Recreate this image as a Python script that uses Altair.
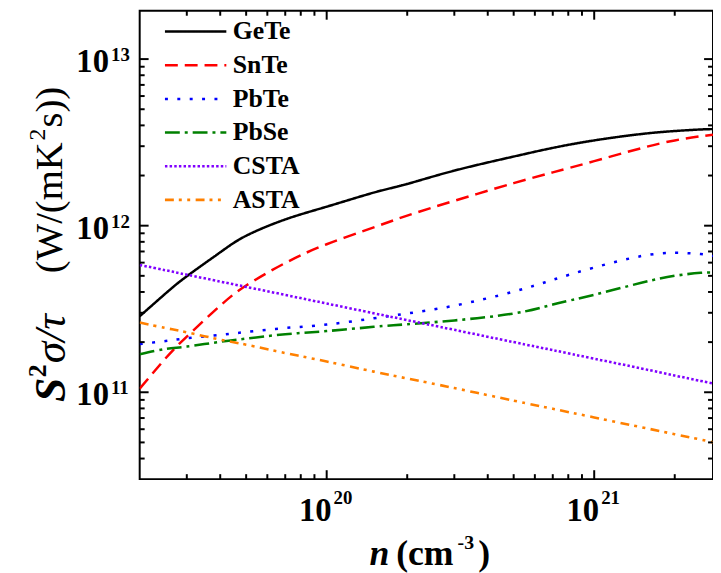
import altair as alt
import pandas as pd

# ---------------- data ----------------
n = [2.0e19, 2.5e19, 3e19, 4e19, 5e19, 7e19, 1e20, 1.5e20, 2e20, 3e20,
     5e20, 7e20, 1e21, 1.5e21, 2e21, 2.5e21, 2.78e21]
gete = [2.86e11, 3.92e11, 4.97e11, 6.92e11, 8.70e11, 1.09e12, 1.30e12, 1.58e12, 1.78e12,
        2.14e12, 2.60e12, 2.93e12, 3.25e12, 3.55e12, 3.70e12, 3.78e12, 3.80e12]
snte = [1.05e11, 1.60e11, 2.16e11, 3.31e11, 4.37e11, 5.97e11, 7.74e11, 9.77e11, 1.15e12,
        1.41e12, 1.80e12, 2.09e12, 2.44e12, 2.92e12, 3.25e12, 3.44e12, 3.52e12]
pbte = [1.95e11, 2.03e11, 2.11e11, 2.21e11, 2.30e11, 2.43e11, 2.55e11, 2.78e11, 2.97e11,
        3.31e11, 4.02e11, 4.73e11, 5.61e11, 6.57e11, 6.87e11, 6.75e11, 6.57e11]
pbse = [1.69e11, 1.82e11, 1.88e11, 2.01e11, 2.10e11, 2.23e11, 2.33e11, 2.47e11, 2.56e11,
        2.70e11, 2.97e11, 3.36e11, 3.85e11, 4.54e11, 5.00e11, 5.21e11, 5.23e11]
csta = [5.81e11, 5.40e11, 5.08e11, 4.62e11, 4.29e11, 3.84e11, 3.41e11, 2.98e11, 2.71e11,
        2.37e11, 2.00e11, 1.79e11, 1.59e11, 1.39e11, 1.26e11, 1.17e11, 1.13e11]
asta = [2.62e11, 2.43e11, 2.29e11, 2.07e11, 1.93e11, 1.72e11, 1.53e11, 1.33e11, 1.21e11,
        1.06e11, 8.91e10, 7.96e10, 7.06e10, 6.17e10, 5.60e10, 5.20e10, 5.00e10]

series = ["GeTe", "SnTe", "PbTe", "PbSe", "CSTA", "ASTA"]
values = [gete, snte, pbte, pbse, csta, asta]

x_major = [1e20, 1e21]
x_major_exp = ["20", "21"]
x_minor = [3e19, 4e19, 5e19, 6e19, 7e19, 8e19, 9e19,
           2e20, 3e20, 4e20, 5e20, 6e20, 7e20, 8e20, 9e20, 2e21]
y_major = [1e11, 1e12, 1e13]
y_major_exp = ["11", "12", "13"]
y_minor = [4e10, 5e10, 6e10, 7e10, 8e10, 9e10,
           2e11, 3e11, 4e11, 5e11, 6e11, 7e11, 8e11, 9e11,
           2e12, 3e12, 4e12, 5e12, 6e12, 7e12, 8e12, 9e12]

# ---------------- styles ----------------
colors = ["#000000", "#ff0000", "#0000ff", "#008000", "#8000ff", "#ff8000"]
dashes = [[1, 0], [13, 7], [3, 9.5], [15, 5, 3, 5], [2.5, 2.2], [9, 5, 3, 5.5, 3, 5.5]]
widths = [2.5, 2.6, 3, 2.6, 2.5, 2.6]

FONT = "Times New Roman, Liberation Serif, serif"
W, H = 579, 473

rows = []
for s, vals in zip(series, values):
    for xv, yv in zip(n, vals):
        rows.append({"series": s, "n": xv, "v": yv})
df = pd.DataFrame(rows)

xscale = alt.Scale(type="log", domain=[2.0e19, 2.78e21], nice=False)
yscale = alt.Scale(type="log", domain=[3.01e10, 1.95e13], nice=False)

legend = alt.Legend(orient="none", legendX=24, legendY=4, title=None,
                    symbolType="stroke", symbolSize=3844, symbolStrokeWidth=2.5,
                    clipHeight=34, rowPadding=0, padding=0,
                    labelFont=FONT, labelFontSize=26, labelFontWeight="bold",
                    labelColor="black", labelOffset=5)

lines = alt.Chart(df).mark_line(interpolate="natural", clip=True).encode(
    x=alt.X("n:Q", scale=xscale, axis=None),
    y=alt.Y("v:Q", scale=yscale, axis=None),
    color=alt.Color("series:N", scale=alt.Scale(domain=series, range=colors), legend=legend),
    strokeDash=alt.StrokeDash("series:N", scale=alt.Scale(domain=series, range=dashes), legend=legend),
    strokeWidth=alt.StrokeWidth("series:N", scale=alt.Scale(domain=series, range=widths), legend=None),
    order=alt.Order("n:Q"),
)

# ---------------- inward ticks ----------------
xmaj = pd.DataFrame({"t": x_major})
xmin = pd.DataFrame({"t": x_minor})
ymaj = pd.DataFrame({"t": y_major})
ymin = pd.DataFrame({"t": y_minor})

def xticks(d, length):
    b = alt.Chart(d).mark_rule(color="black", strokeWidth=2)
    bottom = b.encode(x=alt.X("t:Q", scale=xscale), y=alt.value(H), y2=alt.value(H - length))
    top = b.encode(x=alt.X("t:Q", scale=xscale), y=alt.value(0), y2=alt.value(length))
    return [bottom, top]

def yticks(d, length):
    b = alt.Chart(d).mark_rule(color="black", strokeWidth=2)
    left = b.encode(y=alt.Y("t:Q", scale=yscale), x=alt.value(0), x2=alt.value(length))
    right = b.encode(y=alt.Y("t:Q", scale=yscale), x=alt.value(W), x2=alt.value(W - length))
    return [left, right]

ticks = xticks(xmaj, 9) + xticks(xmin, 5) + yticks(ymaj, 9) + yticks(ymin, 5)

# ---------------- tick labels ----------------
xlab = pd.DataFrame({"t": x_major, "base": ["10"] * len(x_major), "exp": x_major_exp})
ylab = pd.DataFrame({"t": y_major, "base": ["10"] * len(y_major), "exp": y_major_exp})

xl_base = alt.Chart(xlab).mark_text(font=FONT, fontSize=33, fontWeight="bold", align="right",
                                    baseline="alphabetic", dx=5, color="black").encode(
    x=alt.X("t:Q", scale=xscale), y=alt.value(515), text="base:N")
xl_exp = alt.Chart(xlab).mark_text(font=FONT, fontSize=19, fontWeight="bold", align="left",
                                   baseline="alphabetic", dx=7, color="black").encode(
    x=alt.X("t:Q", scale=xscale), y=alt.value(498), text="exp:N")
yl_base = alt.Chart(ylab).mark_text(font=FONT, fontSize=33, fontWeight="bold", align="right",
                                    baseline="alphabetic", dy=13.3, color="black").encode(
    y=alt.Y("t:Q", scale=yscale), x=alt.value(-31), text="base:N")
yl_exp = alt.Chart(ylab).mark_text(font=FONT, fontSize=19, fontWeight="bold", align="left",
                                   baseline="alphabetic", dy=2, color="black").encode(
    y=alt.Y("t:Q", scale=yscale), x=alt.value(-29), text="exp:N")

# ---------------- axis titles ----------------
def label(txt, x, y, size, weight="bold", style="normal", angle=0, align="left"):
    return alt.Chart(pd.DataFrame({"t": [txt]})).mark_text(
        font=FONT, fontSize=size, fontWeight=weight, fontStyle=style, angle=angle,
        align=align, baseline="alphabetic", color="black").encode(
        text="t:N", x=alt.value(x), y=alt.value(y))

titles = [
    label("n", 232, 560, 36, style="italic"),
    label("(cm", 259, 560, 36),
    label("-3", 321, 544, 20),
    label(")", 342, 560, 36),
    label("S", -75, 395, 44, style="italic", angle=270),
    label("2", -95, 370, 26, angle=270),
    label("\u03c3/\u03c4", -75, 356, 44, weight="normal", style="italic", angle=270),
    label("(W/(mK", -78, 265, 39, weight="normal", angle=270),
    label("2", -96, 131, 24, weight="normal", angle=270),
    label("s))", -78, 118, 39, weight="normal", angle=270),
]

chart = alt.layer(lines, *ticks, xl_base, xl_exp, yl_base, yl_exp, *titles).properties(
    width=W, height=H,
    padding={"left": 133, "top": 0, "right": 0, "bottom": 92},
    autosize=alt.AutoSizeParams(type="none"),
).configure_view(stroke="black", strokeWidth=2)

chart.save("out.html", embed_options={"renderer": "svg", "actions": False})
